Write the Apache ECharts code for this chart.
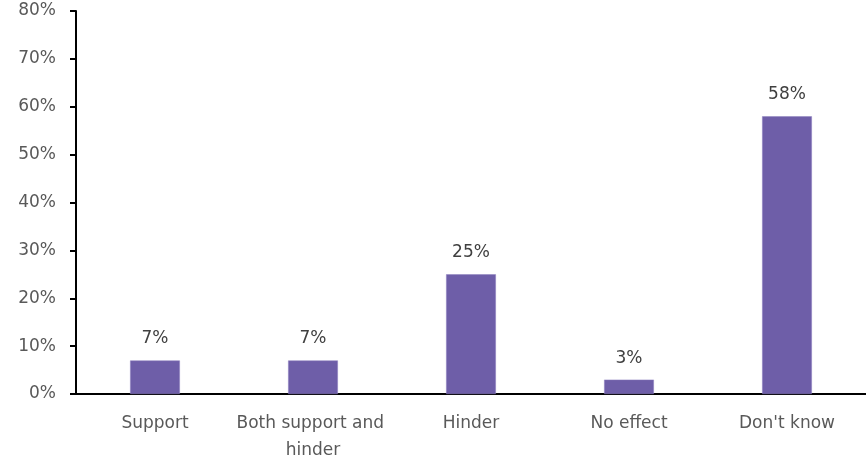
<!DOCTYPE html>
<html>
<head>
<meta charset="utf-8">
<script src="https://cdn.jsdelivr.net/npm/echarts@6/dist/echarts.min.js"></script>
<style>
  html, body { margin: 0; padding: 0; background: #ffffff; }
  #chart { width: 866px; height: 457px; }
</style>
</head>
<body>
<div id="chart"></div>
<script>
// Share of responses per answer (percent)
const categories = ['Support', 'Both support and hinder', 'Hinder', 'No effect', "Don't know"];
const shares = [7, 7, 25, 3, 58];
const yTicks = [0, 10, 20, 30, 40, 50, 60, 70, 80];

const FONT = 'DejaVu Sans';

const chart = echarts.init(document.getElementById('chart'), null, { renderer: 'canvas' });

chart.setOption({
  animation: false,
  backgroundColor: '#ffffff',
  grid: {
    left: 76, right: 0, top: 11, bottom: 63,
    containLabel: false,
    outerBoundsMode: 'none'
  },
  xAxis: {
    type: 'category',
    data: categories,
    axisLine: { show: true, lineStyle: { color: '#000000', width: 2 } },
    axisTick: { show: false },
    axisLabel: {
      color: '#595959',
      fontFamily: FONT,
      fontSize: 17,
      margin: 16,
      lineHeight: 27,
      width: 156,
      overflow: 'break',
      interval: 0
    }
  },
  yAxis: {
    type: 'value',
    min: yTicks[0],
    max: yTicks[yTicks.length - 1],
    interval: 10,
    splitLine: { show: false },
    axisLine: { show: true, lineStyle: { color: '#000000', width: 2 } },
    axisTick: { show: true, length: 6, lineStyle: { color: '#000000', width: 2 } },
    axisLabel: {
      color: '#595959',
      fontFamily: FONT,
      fontSize: 17,
      margin: 20,
      formatter: v => v + '%'
    }
  },
  series: [{
    type: 'bar',
    data: shares,
    barWidth: '31.5%',
    itemStyle: { color: '#6E5EA8', borderColor: '#8C7FBE', borderWidth: 0.5 },
    label: {
      show: true,
      position: 'top',
      distance: 13,
      color: '#404040',
      fontFamily: FONT,
      fontSize: 17,
      formatter: p => p.value + '%'
    }
  }]
});
</script>
</body>
</html>
